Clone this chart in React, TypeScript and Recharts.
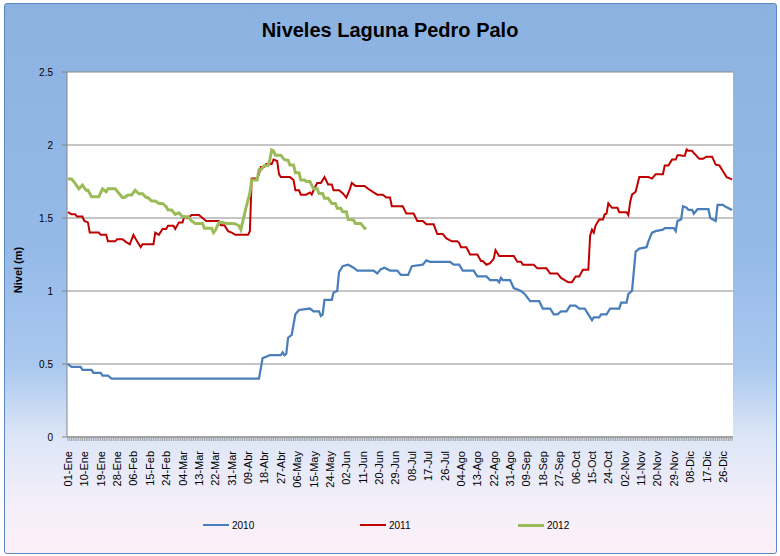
import { LineChart, Line, XAxis, YAxis, CartesianGrid } from "recharts";

// etiquetas del eje X (cada 9 días, año bisiesto)
const tickLabels = [
  "01-Ene", "10-Ene", "19-Ene", "28-Ene", "06-Feb", "15-Feb", "24-Feb",
  "04-Mar", "13-Mar", "22-Mar", "31-Mar", "09-Abr", "18-Abr", "27-Abr",
  "06-May", "15-May", "24-May", "02-Jun", "11-Jun", "20-Jun", "29-Jun",
  "08-Jul", "17-Jul", "26-Jul", "04-Ago", "13-Ago", "22-Ago", "31-Ago",
  "09-Sep", "18-Sep", "27-Sep", "06-Oct", "15-Oct", "24-Oct", "02-Nov",
  "11-Nov", "20-Nov", "29-Nov", "08-Dic", "17-Dic", "26-Dic",
];
const tickDays = tickLabels.map((_, i) => 1 + i * 9);
const allDays = Array.from({ length: 366 }, (_, i) => i + 1);

const yTicks = [0, 0.5, 1, 1.5, 2, 2.5];

// [día del año, nivel (m)]
const nivel2010: [number, number][] = [
  [1, 0.5], [3, 0.48], [8, 0.48], [9, 0.46], [14, 0.46], [15, 0.44], [19, 0.44],
  [20, 0.42], [23, 0.42], [25, 0.4], [106, 0.4], [108, 0.54], [110, 0.55],
  [112, 0.56], [118, 0.56], [119, 0.58], [120, 0.56], [121, 0.57], [122, 0.68],
  [124, 0.7], [126, 0.84], [128, 0.87], [134, 0.88], [136, 0.86], [139, 0.86],
  [140, 0.83], [141, 0.84], [142, 0.94], [146, 0.94], [147, 0.99], [149, 1.0],
  [150, 1.13], [152, 1.17], [155, 1.18], [158, 1.16], [160, 1.14], [169, 1.14],
  [171, 1.12], [173, 1.15], [175, 1.16], [178, 1.14], [182, 1.14], [184, 1.11],
  [188, 1.11], [190, 1.17], [196, 1.18], [198, 1.21], [200, 1.2], [211, 1.2],
  [213, 1.18], [216, 1.18], [218, 1.14], [224, 1.14], [226, 1.1], [231, 1.1],
  [233, 1.075], [237, 1.075], [238, 1.06], [239, 1.09], [240, 1.075], [244, 1.075],
  [246, 1.02], [250, 1.0], [252, 0.98], [255, 0.93], [260, 0.93], [262, 0.88],
  [266, 0.88], [268, 0.84], [270, 0.84], [272, 0.86], [275, 0.86], [277, 0.9],
  [280, 0.9], [282, 0.88], [285, 0.88], [287, 0.84], [289, 0.8], [290, 0.82],
  [293, 0.82], [294, 0.84], [297, 0.84], [299, 0.88], [304, 0.88], [305, 0.92],
  [308, 0.92], [309, 0.98], [311, 1.0], [313, 1.27], [315, 1.29], [319, 1.3],
  [320, 1.34], [322, 1.4], [324, 1.41], [328, 1.42], [329, 1.43], [334, 1.43],
  [335, 1.41], [336, 1.48], [338, 1.49], [339, 1.58], [341, 1.57], [342, 1.555],
  [344, 1.555], [345, 1.53], [347, 1.56], [353, 1.56], [354, 1.5], [357, 1.48],
  [358, 1.59], [361, 1.59], [362, 1.58], [366, 1.555],
];

const nivel2011: [number, number][] = [
  [1, 1.54], [3, 1.525], [5, 1.525], [6, 1.51], [9, 1.51], [10, 1.48], [12, 1.47],
  [13, 1.4], [18, 1.4], [19, 1.385], [22, 1.385], [23, 1.34], [27, 1.34],
  [28, 1.355], [31, 1.355], [33, 1.335], [35, 1.32], [37, 1.385], [39, 1.34],
  [41, 1.3], [42, 1.32], [48, 1.32], [49, 1.4], [51, 1.385], [53, 1.425],
  [55, 1.425], [56, 1.447], [59, 1.447], [60, 1.425], [62, 1.47], [64, 1.47],
  [65, 1.51], [67, 1.5], [69, 1.52], [73, 1.52], [75, 1.5], [77, 1.48], [84, 1.48],
  [85, 1.45], [87, 1.45], [89, 1.41], [91, 1.4], [93, 1.385], [100, 1.385],
  [101, 1.41], [102, 1.77], [105, 1.77], [106, 1.8], [107, 1.85], [109, 1.85],
  [110, 1.87], [113, 1.87], [114, 1.9], [116, 1.89], [117, 1.8], [118, 1.78],
  [123, 1.78], [125, 1.76], [126, 1.69], [128, 1.69], [129, 1.66], [132, 1.66],
  [134, 1.675], [135, 1.66], [136, 1.69], [138, 1.74], [140, 1.74], [142, 1.78],
  [144, 1.73], [146, 1.73], [147, 1.69], [150, 1.69], [152, 1.67], [154, 1.64],
  [156, 1.7], [157, 1.74], [159, 1.72], [164, 1.72], [166, 1.7], [169, 1.675],
  [171, 1.66], [174, 1.66], [176, 1.64], [178, 1.64], [179, 1.58], [185, 1.58],
  [187, 1.53], [191, 1.53], [193, 1.48], [196, 1.48], [198, 1.457], [202, 1.457],
  [204, 1.39], [207, 1.39], [209, 1.36], [212, 1.34], [215, 1.34], [216, 1.33],
  [217, 1.3], [220, 1.3], [222, 1.25], [226, 1.25], [228, 1.205], [229, 1.205],
  [231, 1.18], [233, 1.19], [235, 1.22], [236, 1.28], [238, 1.24], [246, 1.24],
  [248, 1.2], [250, 1.2], [251, 1.18], [257, 1.18], [259, 1.155], [264, 1.155],
  [266, 1.12], [270, 1.12], [272, 1.09], [274, 1.075], [276, 1.06], [278, 1.06],
  [280, 1.1], [282, 1.1], [284, 1.145], [287, 1.145], [288, 1.38], [289, 1.42],
  [290, 1.4], [291, 1.45], [293, 1.49], [295, 1.49], [296, 1.525], [297, 1.53],
  [298, 1.6], [300, 1.57], [303, 1.57], [304, 1.54], [308, 1.54], [309, 1.52],
  [310, 1.61], [311, 1.66], [313, 1.68], [315, 1.78], [320, 1.78], [322, 1.77],
  [324, 1.8], [328, 1.8], [329, 1.86], [331, 1.86], [333, 1.9], [335, 1.9],
  [336, 1.93], [337, 1.93], [340, 1.925], [341, 1.97], [342, 1.96], [344, 1.96],
  [345, 1.945], [348, 1.905], [350, 1.905], [352, 1.92], [355, 1.92], [357, 1.865],
  [359, 1.86], [361, 1.82], [363, 1.78], [366, 1.765],
];

const nivel2012: [number, number][] = [
  [1, 1.767], [3, 1.767], [5, 1.737], [7, 1.7], [9, 1.726], [11, 1.69], [12, 1.69],
  [14, 1.646], [18, 1.646], [20, 1.7], [22, 1.68], [23, 1.7], [27, 1.7], [29, 1.67],
  [31, 1.64], [32, 1.64], [34, 1.658], [36, 1.658], [38, 1.69], [40, 1.666],
  [42, 1.666], [44, 1.64], [45, 1.64], [47, 1.616], [49, 1.616], [51, 1.6],
  [53, 1.6], [55, 1.577], [56, 1.555], [58, 1.555], [60, 1.525], [62, 1.535],
  [64, 1.509], [67, 1.509], [69, 1.48], [71, 1.463], [75, 1.463], [76, 1.43],
  [80, 1.43], [81, 1.4], [82, 1.415], [84, 1.47], [86, 1.47], [88, 1.463],
  [91, 1.463], [93, 1.46], [95, 1.447], [96, 1.42], [97, 1.47], [99, 1.577],
  [101, 1.67], [102, 1.76], [105, 1.76], [106, 1.83], [107, 1.83], [109, 1.86],
  [111, 1.86], [112, 1.9], [113, 1.966], [114, 1.96], [115, 1.93], [118, 1.93],
  [120, 1.9], [122, 1.895], [123, 1.863], [125, 1.863], [126, 1.81], [128, 1.81],
  [129, 1.76], [131, 1.76], [132, 1.75], [134, 1.75], [136, 1.7], [138, 1.7],
  [139, 1.668], [141, 1.668], [142, 1.635], [144, 1.635], [146, 1.6], [148, 1.6],
  [149, 1.566], [151, 1.566], [152, 1.543], [154, 1.543], [155, 1.49], [158, 1.486],
  [159, 1.463], [162, 1.463], [164, 1.43], [165, 1.425],
];

const series = [
  { name: "2010", color: "#4a7ebb", width: 2.25, points: nivel2010, legendX: 203 },
  { name: "2011", color: "#c00000", width: 2, points: nivel2011, legendX: 360 },
  { name: "2012", color: "#9bbb59", width: 3, points: nivel2012, legendX: 518 },
];

const FONT = '"Liberation Sans", Arial, sans-serif';

function DayTick(props: any) {
  const { x, y, payload } = props;
  const i = tickDays.indexOf(payload.value);
  if (i < 0) return <g />;
  return (
    <text
      transform={`translate(${x},${y + 10}) rotate(-90)`}
      textAnchor="end"
      dominantBaseline="central"
      fontSize={11}
      fontFamily={FONT}
      fill="#000"
    >
      {tickLabels[i]}
    </text>
  );
}

export default function App() {
  return (
    <div
      style={{
        position: "absolute",
        left: 0,
        top: 0,
        width: 780,
        height: 556,
        background: "#fff",
        fontFamily: FONT,
      }}
    >
      <div
        style={{
          position: "absolute",
          left: 4,
          top: 3,
          width: 771,
          height: 549,
          border: "1px solid #5b87c4",
          borderRadius: 3,
          background:
            "linear-gradient(to bottom, #8cb2e2 0%, #95bae8 45%, #aac8ef 66%, #dde6f7 79%, #f2eef9 90%, #fdf0f8 100%)",
        }}
      />
      <div style={{ position: "absolute", left: 0, top: 0 }}>
        <LineChart
          width={780}
          height={556}
          margin={{ top: 72, right: 47, left: 0, bottom: 0 }}
        >
          <CartesianGrid vertical={false} stroke="#8c8c8c" fill="#fff" />
          <XAxis
            type="number"
            dataKey="d"
            domain={[0.5, 366.5]}
            ticks={allDays}
            interval={0}
            height={119}
            tickSize={4}
            tickMargin={0}
            tick={<DayTick />}
            axisLine={{ stroke: "#868686" }}
            tickLine={{ stroke: "#a0a0a0" }}
            allowDataOverflow
          />
          <YAxis
            domain={[0, 2.5]}
            ticks={yTicks}
            width={67}
            tickSize={5}
            tickMargin={9}
            axisLine={{ stroke: "#868686" }}
            tickLine={{ stroke: "#868686" }}
            tick={{ fontSize: 10, fill: "#000", fontFamily: FONT }}
          />
          {series.map((s) => (
            <Line
              key={s.name}
              data={s.points.map(([d, v]) => ({ d, v }))}
              dataKey="v"
              name={s.name}
              type="linear"
              stroke={s.color}
              strokeWidth={s.width}
              dot={false}
              activeDot={false}
              isAnimationActive={false}
            />
          ))}
        </LineChart>
      </div>
      <div
        style={{
          position: "absolute",
          left: 0,
          top: 17,
          width: 780,
          textAlign: "center",
          fontSize: 20,
          fontWeight: "bold",
          lineHeight: "26px",
          color: "#000",
        }}
      >
        Niveles Laguna Pedro Palo
      </div>
      <div
        style={{
          position: "absolute",
          left: 18,
          top: 270,
          transform: "translate(-50%, -50%) rotate(-90deg)",
          fontSize: 11,
          fontWeight: "bold",
          whiteSpace: "nowrap",
          color: "#000",
        }}
      >
        Nivel (m)
      </div>
      {series.map((s) => (
        <div
          key={s.name}
          style={{
            position: "absolute",
            left: s.legendX,
            top: 518,
            height: 14,
            display: "flex",
            alignItems: "center",
            fontSize: 10,
            color: "#000",
          }}
        >
          <span
            style={{
              display: "inline-block",
              width: 26,
              height: s.width >= 3 ? 3 : 2.5,
              background: s.color,
              marginRight: 3,
            }}
          />
          {s.name}
        </div>
      ))}
    </div>
  );
}
